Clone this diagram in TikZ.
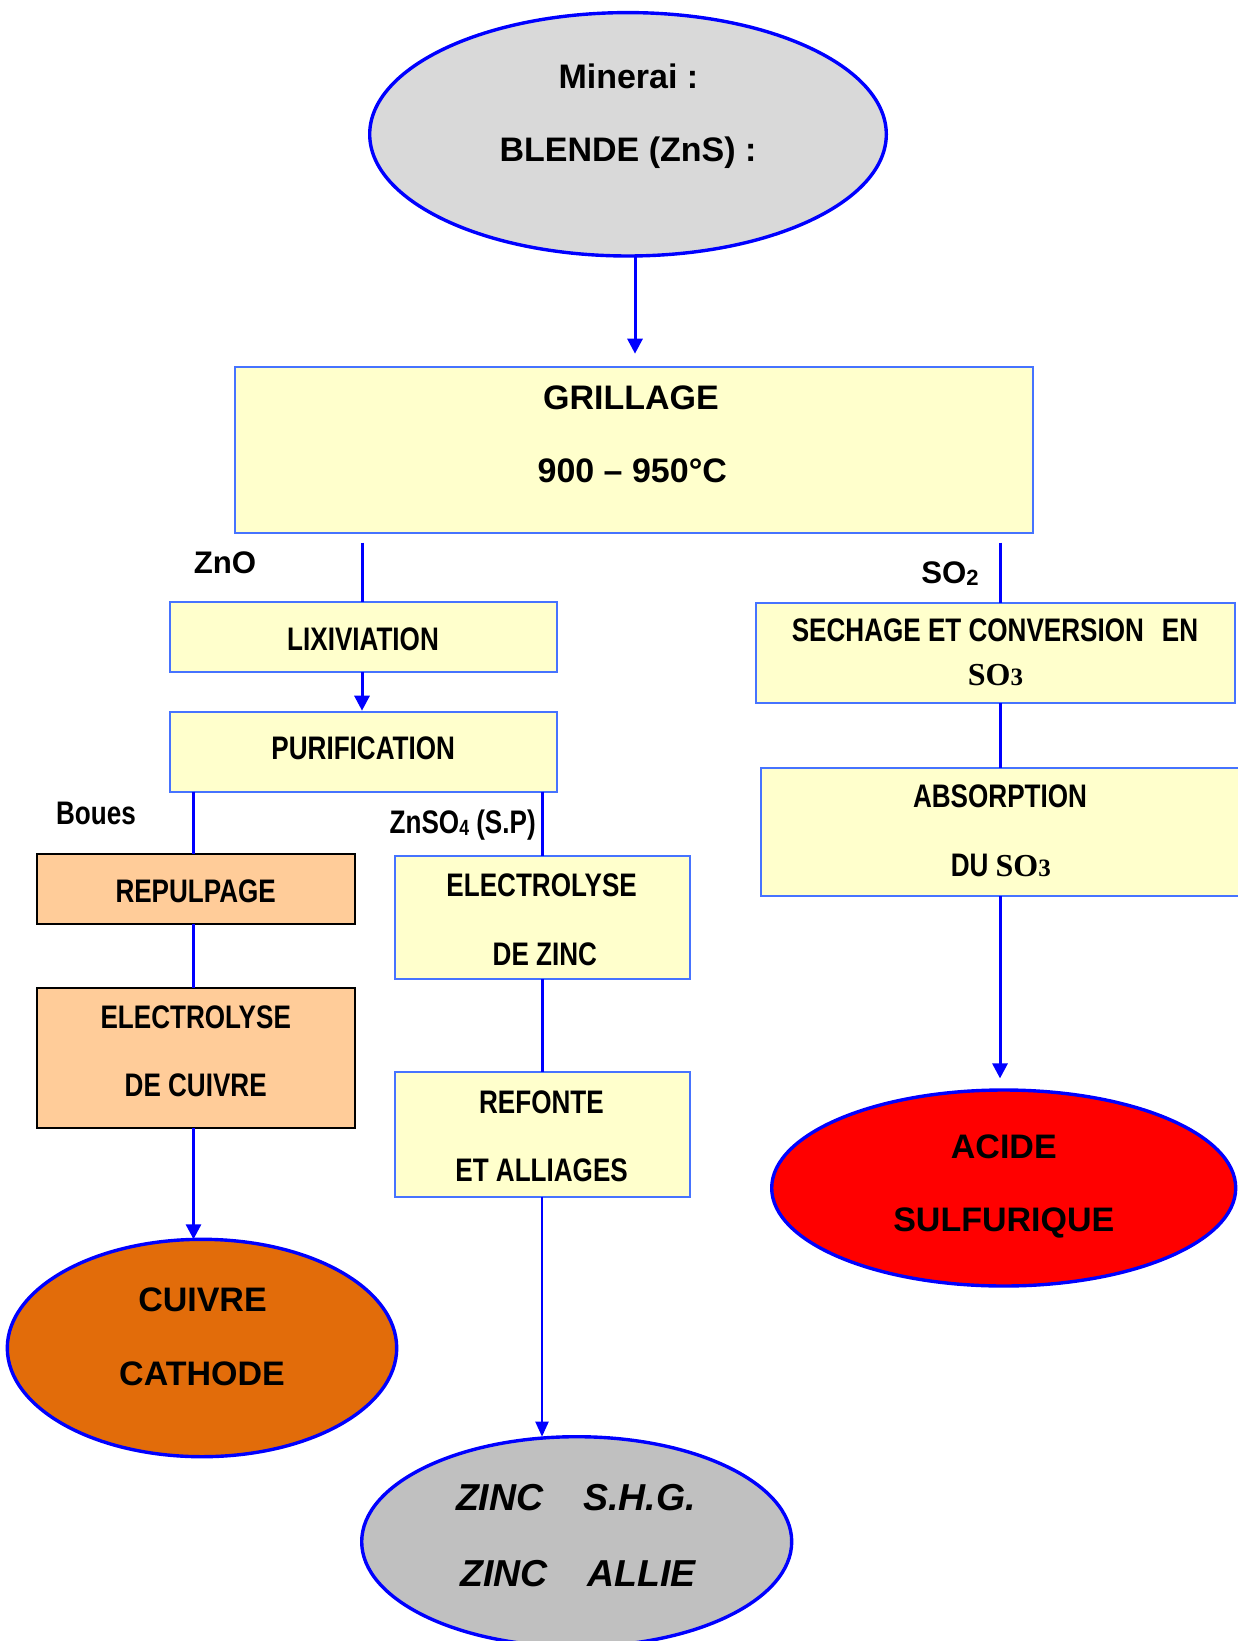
\documentclass[tikz,border=0pt]{standalone}
\usepackage{fontspec}
\setmainfont{Liberation Sans}
\newfontfamily\narrowf[FakeStretch=0.8]{Liberation Sans}
\newfontfamily\tmsf{Liberation Serif}
\usetikzlibrary{shapes.geometric,arrows.meta}
\definecolor{cblue}{RGB}{0,0,255}
\definecolor{bxblue}{RGB}{70,115,255}
\definecolor{yel}{RGB}{255,255,204}
\definecolor{peach}{RGB}{255,204,153}
\definecolor{orng}{RGB}{226,108,10}
\definecolor{lgray}{RGB}{217,217,217}
\definecolor{mgray}{RGB}{192,192,192}
\newcommand{\sothree}{{\tmsf\bfseries\fontsize{16}{18}\selectfont SO\fontsize{12.5}{14}\selectfont 3}}
\tikzset{
  ybox/.style={rectangle, draw=bxblue, fill=yel, line width=1pt, inner sep=0pt, outer sep=0pt},
  pbox/.style={rectangle, draw=black, fill=peach, line width=1pt, inner sep=0pt, outer sep=0pt},
  oval/.style={ellipse, draw=cblue, line width=1.7pt, inner sep=0pt, outer sep=0pt},
  conn/.style={draw=cblue, line width=1.5pt},
  arr/.style={conn, -{Triangle[length=7.5pt,width=7.5pt]}},
  arrthin/.style={draw=cblue, line width=1pt, -{Triangle[length=7.5pt,width=6.5pt]}},
  txt/.style={anchor=base, inner sep=0pt, font=\bfseries\fontsize{17}{20}\selectfont},
  ntxt/.style={anchor=base, inner sep=0pt, font=\narrowf\bfseries\fontsize{16.3}{19}\selectfont},
  itxt/.style={anchor=base, inner sep=0pt, font=\bfseries\itshape\fontsize{18.75}{22}\selectfont},
}
\begin{document}
\begin{tikzpicture}[x=0.5pt,y=-0.5pt]
\useasboundingbox (0,0) rectangle (1237,1641);
% shapes
\node[oval, fill=lgray, minimum width=258.3pt, minimum height=121.7pt] (ore) at (628,134.3) {};
\node[ybox, minimum width=399pt, minimum height=83.3pt] (grill) at (633.6,450) {};
\node[ybox, minimum width=193.75pt, minimum height=35.3pt] (lix) at (363.3,637) {};
\node[ybox, minimum width=193.75pt, minimum height=40pt] (pur) at (363.3,751.7) {};
\node[pbox, minimum width=159.2pt, minimum height=35pt] (rep) at (195.8,889) {};
\node[pbox, minimum width=159.2pt, minimum height=70.3pt] (elcu) at (195.8,1058) {};
\node[ybox, minimum width=147.5pt, minimum height=61.7pt] (elzn) at (542,917.7) {};
\node[ybox, minimum width=147.5pt, minimum height=62.3pt] (ref) at (542,1134.3) {};
\node[oval, fill=orng, minimum width=194.7pt, minimum height=108.7pt] (cuivre) at (202,1348) {};
\node[oval, fill=mgray, minimum width=215pt, minimum height=105pt] (zinc) at (576.7,1541.7) {};
\node[ybox, minimum width=239.5pt, minimum height=50.2pt] (sech) at (995.5,652.8) {};
\node[ybox, minimum width=244.7pt, minimum height=63.9pt] (abs) at (1005.3,832.2) {};
\node[oval, fill=red, minimum width=232pt, minimum height=98pt] (acide) at (1003.7,1188) {};
% connector anchors
\coordinate (oreout) at (635,256);
\coordinate (znotop) at (362,542.7);
\coordinate (so2top) at (1000,542.7);
\coordinate (bouesx) at (193.5,790);
% connectors
\draw[arr, shorten >=6.5pt] (oreout) -- (oreout |- grill.north);
\draw[conn] (znotop) -- (znotop |- lix.north);
\draw[arr, shorten >=0.5pt] (lix.south -| znotop) -- (pur.north -| znotop);
\draw[conn] (pur.south -| bouesx) -- (rep.north -| bouesx);
\draw[conn] (pur.south -| elzn.north) -- (elzn.north);
\draw[conn] (rep.south -| bouesx) -- (elcu.north -| bouesx);
\draw[arr] (elcu.south -| bouesx) -- (cuivre.north -| bouesx);
\draw[conn] (elzn.south) -- (ref.north);
\draw[arrthin] (ref.south) -- (ref.south |- zinc.north);
\draw[conn] (so2top) -- (so2top |- sech.north);
\draw[conn] (sech.south -| so2top) -- (abs.north -| so2top);
\draw[arr, shorten >=5.8pt] (abs.south -| so2top) -- (acide.north -| so2top);
% texts
\node[txt] (tmin) at (628.4,88.3) {Minerai :};
\node[txt] (tblende) at (628,161.7) {BLENDE (ZnS) :};
\node[txt] (tgrill) at (631,409.3) {GRILLAGE};
\node[txt] (ttemp) at (632.3,482.7) {900 – 950°C};
\node[txt, font=\bfseries\fontsize{15.6}{18}\selectfont] (tzno) at (225,574) {ZnO};
\node[txt, font=\bfseries\fontsize{15.6}{18}\selectfont] (tso2) at (950,583) {SO\raisebox{-1.2pt}{\fontsize{11}{12}\selectfont 2}};
\node[ntxt] (tlix) at (363,650) {LIXIVIATION};
\node[ntxt] (tpur) at (363.2,759) {PURIFICATION};
\node[ntxt] (tboues) at (96,824) {Boues};
\node[ntxt] (tznso) at (462.7,833.3) {ZnSO\raisebox{-1pt}{\fontsize{11}{12}\selectfont 4} (S.P)};
\node[ntxt] (trep) at (195.7,902.7) {REPULPAGE};
\node[ntxt] (telcua) at (195.7,1028.3) {ELECTROLYSE};
\node[ntxt] (telcub) at (195.7,1096.7) {DE CUIVRE};
\node[ntxt] (telzna) at (541.6,896) {ELECTROLYSE};
\node[ntxt] (telznb) at (544.9,965.7) {DE ZINC};
\node[ntxt] (trefa) at (541.4,1113.3) {REFONTE};
\node[ntxt] (trefb) at (541.6,1181) {ET ALLIAGES};
\node[txt] (tcua) at (202.5,1311.7) {CUIVRE};
\node[txt] (tcub) at (202,1385) {CATHODE};
\node[itxt] (tzna) at (576,1510.7) {ZINC\hspace{20pt}S.H.G.};
\node[itxt] (tznb) at (578,1586.7) {ZINC\hspace{20pt}ALLIE};
\node[ntxt] (tsecha) at (995,641.7) {SECHAGE ET CONVERSION\hspace{9pt}EN};
\node[ntxt] (tsechb) at (995.5,685) {\sothree};
\node[ntxt] (tabsa) at (1000,807.3) {ABSORPTION};
\node[ntxt] (tabsb) at (1000.8,876.7) {DU \sothree};
\node[txt] (tacide) at (1003.8,1158.3) {ACIDE};
\node[txt] (tsulf) at (1003.8,1231.7) {SULFURIQUE};
\end{tikzpicture}
\end{document}
